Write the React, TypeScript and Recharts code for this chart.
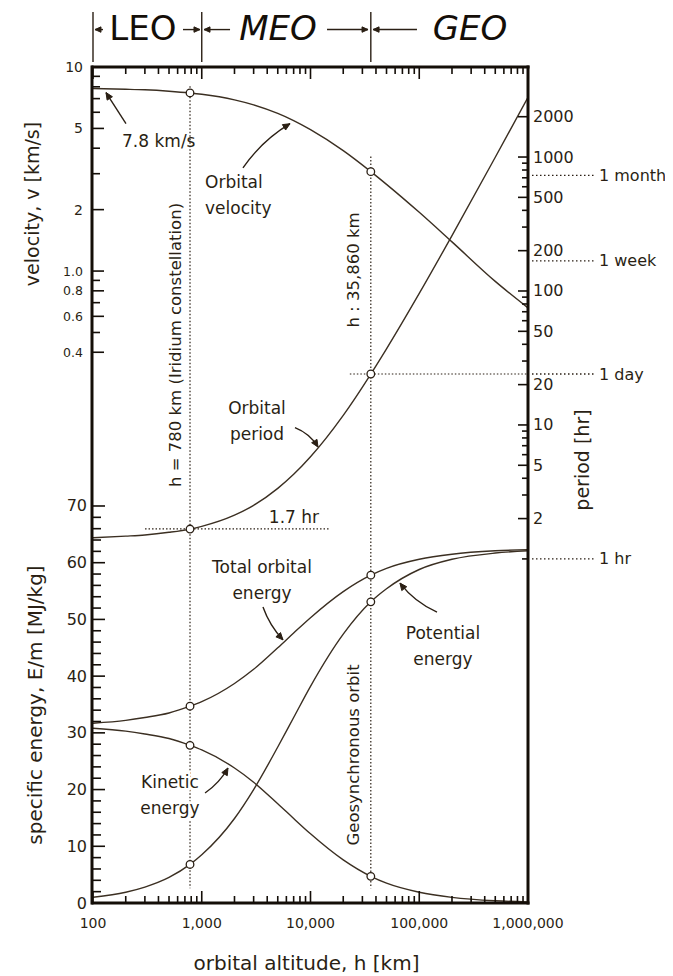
import React from 'react';
import { LineChart, Line, XAxis, YAxis, ReferenceLine, ReferenceDot } from 'recharts';

// orbital altitude samples [km]
const ALTITUDE_KM = [100, 200, 300, 500, 780, 1000, 2000, 3000, 5000, 7000, 10000, 20000, 35860, 50000, 100000, 200000, 500000, 1000000];
// values
const VELOCITY = [7.84, 7.78, 7.73, 7.61, 7.46, 7.35, 6.9, 6.52, 5.92, 5.46, 4.93, 3.89, 3.07, 2.66, 1.94, 1.39, 0.89, 0.66];
const PERIOD_HR = [1.44, 1.48, 1.51, 1.58, 1.67, 1.75, 2.12, 2.51, 3.36, 4.28, 5.79, 11.8, 24.0, 37.0, 95.9, 259, 996, 2790];
const TOTAL_ENERGY = [31.7, 32.2, 32.7, 33.5, 34.7, 35.5, 38.7, 41.2, 45.0, 47.6, 50.3, 54.9, 57.8, 59.0, 60.6, 61.5, 62.1, 62.3];
const KINETIC_ENERGY = [30.8, 30.3, 29.8, 29.0, 27.8, 27.0, 23.8, 21.3, 17.5, 14.9, 12.2, 7.6, 4.7, 3.5, 1.9, 1.0, 0.4, 0.2];
const POTENTIAL_ENERGY = [1.0, 1.9, 2.8, 4.5, 6.8, 8.5, 14.9, 20.0, 27.5, 32.7, 38.2, 47.4, 53.1, 55.4, 58.8, 60.6, 61.7, 62.1];
const MARKED_ALT = [780, 35860];

// ticks
const X_DECADES = [100, 1000, 10000, 100000, 1000000];
const X_LABELS = ['100', '1,000', '10,000', '100,000', '1,000,000'];
const X_TICKS = [100, 1000, 10000, 100000].flatMap((d) => [1, 2, 3, 4, 5, 6, 7, 8, 9].map((m) => m * d)).concat([1000000]);
const VEL_TICKS = [0.4, 0.5, 0.6, 0.7, 0.8, 0.9, 1, 2, 3, 4, 5, 6, 7, 8, 9, 10];
const VEL_LABELED = [0.4, 0.6, 0.8, 1, 2, 5, 10];
const VEL_LABELS = ['0.4', '0.6', '0.8', '1.0', '2', '5', '10'];
const ENERGY_TICKS = Array.from({ length: 36 }, (_, i) => i * 2);
const ENERGY_LABELED = [0, 10, 20, 30, 40, 50, 60, 70];
const PERIOD_TICKS = [1, 2, 3, 4, 5, 6, 7, 8, 9, 10, 20, 30, 40, 50, 60, 70, 80, 90, 100, 200, 300, 400, 500, 600, 700, 800, 900, 1000, 2000];
const PERIOD_LABELED = [2, 5, 10, 20, 50, 100, 200, 500, 1000, 2000];
const PERIOD_MARKS = ['1 hr', '1 day', '1 week', '1 month'];
const PERIOD_MARK_HOURS = [1, 24, 168, 730];

const X_DOMAIN = [100, 1000000];
const VEL_DOMAIN = [0.0008, 10];
const ENERGY_DOMAIN = [0, 147.4];
const PERIOD_DOMAIN = [0.0027, 4700];

// annotation anchors (altitude, energy-axis value)
const NOTES = [
  { lines: ['7.8 km/s'], h: 185, e: 134.4, anchor: 'start' },
  { lines: ['Orbital', 'velocity'], h: 1072, e: 127.2, anchor: 'start' },
  { lines: ['h = 780 km (Iridium constellation)'], h: 568, e: 98.4, rotate: true },
  { lines: ['h : 35,860 km'], h: 24600, e: 111.6, rotate: true },
  { lines: ['Orbital', 'period'], h: 3221, e: 87.3 },
  { lines: ['1.7 hr'], h: 7047, e: 68.1 },
  { lines: ['Total orbital', 'energy'], h: 3583, e: 59.3 },
  { lines: ['Potential', 'energy'], h: 165300, e: 47.6 },
  { lines: ['Kinetic', 'energy'], h: 510, e: 21.3, halo: true },
  { lines: ['Geosynchronous orbit'], h: 24600, e: 26.1, rotate: true },
];
const ARROWS = [
  { from: [201, 137.4], to: [131.7, 142.9], bend: 0 },
  { from: [2393, 129.6], to: [6480, 137.4], bend: -7 },
  { from: [7195, 83.8], to: [11720, 80.4], bend: -5 },
  { from: [3656, 52.2], to: [5585, 46.4], bend: 4 },
  { from: [145600, 51.3], to: [66500, 56.4], bend: -6 },
  { from: [1072, 19.4], to: [1742, 23.8], bend: 4 },
];
const ZONES = ['LEO', 'MEO', 'GEO'];
const ZONE_CENTERS = [288, 5023, 293000];
const ZONE_BOUNDS = [100, 1000, 35860];
const ZONE_ARROWS = [[123.6, 104.3], [672, 963], [1820, 1049], [14190, 33800], [95300, 37600]];

const data = ALTITUDE_KM.map((h, i) => ({
  h,
  v: VELOCITY[i],
  T: PERIOD_HR[i],
  te: TOTAL_ENERGY[i],
  ke: KINETIC_ENERGY[i],
  pe: POTENTIAL_ENERGY[i],
}));

const INK = '#2a1f14';
const CURVE = '#3b2f22';
const FRAME = '#140e08';
const FONT = "'DejaVu Sans', sans-serif";
const frameLine = { stroke: FRAME, strokeWidth: 3, strokeLinecap: 'square' as const };
const TICK_W = 1.6;

const BottomTick = ({ x, y, payload }: any) => {
  const idx = X_DECADES.indexOf(payload.value);
  return (
    <g>
      <line x1={x} x2={x} y1={y} y2={y - (idx >= 0 ? 12 : 7)} stroke={FRAME} strokeWidth={TICK_W} />
      {idx >= 0 && (
        <text x={x} y={y + 20} textAnchor="middle" dominantBaseline="central" fontSize={14} fill={INK} fontFamily={FONT}>
          {X_LABELS[idx]}
        </text>
      )}
    </g>
  );
};

const TopTick = ({ x, y, payload }: any) => {
  const major = X_DECADES.includes(payload.value);
  return <line x1={x} x2={x} y1={y} y2={y + (major ? 12 : 7)} stroke={FRAME} strokeWidth={TICK_W} />;
};

const VelTick = ({ x, y, payload }: any) => {
  const idx = VEL_LABELED.indexOf(payload.value);
  return (
    <g>
      <line x1={x} x2={x + (idx >= 0 ? 12 : 8)} y1={y} y2={y} stroke={FRAME} strokeWidth={TICK_W} />
      {idx >= 0 && (
        <text x={x - 9} y={y} textAnchor="end" dominantBaseline="central" fontSize={payload.value < 1.5 ? 12.5 : 14} fill={INK} fontFamily={FONT}>
          {VEL_LABELS[idx]}
        </text>
      )}
    </g>
  );
};

const EnergyTick = ({ x, y, payload }: any) => {
  const major = ENERGY_LABELED.includes(payload.value);
  return (
    <g>
      <line x1={x} x2={x + (major ? 12 : 8)} y1={y} y2={y} stroke={FRAME} strokeWidth={TICK_W} />
      {major && (
        <text x={x - 6} y={y} textAnchor="end" dominantBaseline="central" fontSize={16} fill={INK} fontFamily={FONT}>
          {payload.value}
        </text>
      )}
    </g>
  );
};

const PeriodTick = ({ x, y, payload }: any) => {
  const major = PERIOD_LABELED.includes(payload.value);
  return (
    <g>
      <line x1={x} x2={x - (major ? 10 : 6)} y1={y} y2={y} stroke={FRAME} strokeWidth={TICK_W} />
      {major && (
        <text x={x + 5} y={y} textAnchor="start" dominantBaseline="central" fontSize={16} fill={INK} fontFamily={FONT}>
          {payload.value}
        </text>
      )}
    </g>
  );
};

const RingDot = (props: any) => {
  const { cx, cy, payload, index } = props;
  if (!MARKED_ALT.includes(payload.h)) return <g key={`d${index}`} />;
  return <circle key={`d${index}`} cx={cx} cy={cy} r={3.8} fill="#fff" stroke={INK} strokeWidth={1.3} />;
};

const Arrow = ({ x1, y1, x2, y2, bend = 0, head = 7 }: any) => {
  const mx = (x1 + x2) / 2;
  const my = (y1 + y2) / 2;
  const len = Math.hypot(x2 - x1, y2 - y1) || 1;
  const cx = mx + (-(y2 - y1) / len) * bend;
  const cy = my + ((x2 - x1) / len) * bend;
  const al = Math.hypot(x2 - cx, y2 - cy) || 1;
  const ux = (x2 - cx) / al;
  const uy = (y2 - cy) / al;
  const w = head * 0.45;
  const p1 = `${x2 - ux * head - uy * w},${y2 - uy * head + ux * w}`;
  const p2 = `${x2 - ux * head + uy * w},${y2 - uy * head - ux * w}`;
  return (
    <g>
      <path d={`M${x1},${y1} Q${cx},${cy} ${x2},${y2}`} fill="none" stroke={INK} strokeWidth={1.4} />
      <path d={`M${x2},${y2} L${p1} L${p2} Z`} fill={INK} stroke={INK} strokeWidth={1} />
    </g>
  );
};

const Note = ({ cx, cy, note }: any) => {
  const anchor = note.anchor || 'middle';
  const halo = note.halo ? { stroke: '#fff', strokeWidth: 5, paintOrder: 'stroke' as const } : {};
  if (note.rotate) {
    return (
      <text transform={`translate(${cx},${cy}) rotate(-90)`} textAnchor="middle" dominantBaseline="central" fontSize={16.5} fill={INK} fontFamily={FONT}>
        {note.lines[0]}
      </text>
    );
  }
  return (
    <g>
      {note.lines.map((t: string, i: number) => (
        <text key={t} x={cx} y={cy + i * 26} textAnchor={anchor} dominantBaseline="central" fontSize={17} fill={INK} fontFamily={FONT} {...halo}>
          {t}
        </text>
      ))}
    </g>
  );
};

const PeriodMark = ({ viewBox, text }: any) => {
  const x = viewBox.x + viewBox.width;
  const y = viewBox.y;
  return (
    <g>
      <line x1={x + 4} x2={x + 66} y1={y} y2={y} stroke={INK} strokeWidth={1.3} strokeDasharray="1.5 2.5" />
      <text x={x + 71} y={y} dominantBaseline="central" fontSize={16} fill={INK} fontFamily={FONT}>
        {text}
      </text>
    </g>
  );
};

const dotted = { stroke: INK, strokeWidth: 1.2, strokeDasharray: '1.5 2' };

export default function App() {
  return (
    <div style={{ width: 657, height: 968 }}>
      <LineChart width={657} height={968} data={data} margin={{ top: 58, left: 83, right: 136, bottom: 72 }}>
        <XAxis
          xAxisId="bottom"
          dataKey="h"
          type="number"
          scale="log"
          domain={X_DOMAIN}
          allowDataOverflow
          ticks={X_TICKS}
          interval={0}
          height={1}
          tickSize={0}
          tickMargin={0}
          tickLine={false}
          tick={<BottomTick />}
          axisLine={frameLine}
          label={({ viewBox }: any) => (
            <text x={viewBox.x + viewBox.width / 2 - 4} y={viewBox.y + 60} textAnchor="middle" dominantBaseline="central" fontSize={20} fill={INK} fontFamily={FONT}>
              orbital altitude, h [km]
            </text>
          )}
        />
        <XAxis
          xAxisId="top"
          orientation="top"
          dataKey="h"
          type="number"
          scale="log"
          domain={X_DOMAIN}
          allowDataOverflow
          ticks={X_TICKS}
          interval={0}
          height={1}
          tickSize={0}
          tickMargin={0}
          tickLine={false}
          tick={<TopTick />}
          axisLine={frameLine}
        />
        <YAxis
          yAxisId="vel"
          type="number"
          scale="log"
          domain={VEL_DOMAIN}
          allowDataOverflow
          ticks={VEL_TICKS}
          interval={0}
          width={1}
          tickSize={0}
          tickMargin={0}
          tickLine={false}
          tick={<VelTick />}
          axisLine={frameLine}
          label={({ viewBox }: any) => (
            <text transform={`translate(${viewBox.x - 59},${viewBox.y + 137}) rotate(-90)`} textAnchor="middle" dominantBaseline="central" fontSize={19} fill={INK} fontFamily={FONT}>
              velocity, v [km/s]
            </text>
          )}
        />
        <YAxis
          yAxisId="energy"
          type="number"
          domain={ENERGY_DOMAIN}
          allowDataOverflow
          ticks={ENERGY_TICKS}
          interval={0}
          width={1}
          tickSize={0}
          tickMargin={0}
          tickLine={false}
          tick={<EnergyTick />}
          axisLine={false}
          label={({ viewBox }: any) => (
            <text transform={`translate(${viewBox.x - 57},${viewBox.y + 638}) rotate(-90)`} textAnchor="middle" dominantBaseline="central" fontSize={20} fill={INK} fontFamily={FONT}>
              specific energy, E/m [MJ/kg]
            </text>
          )}
        />
        <YAxis
          yAxisId="period"
          orientation="right"
          type="number"
          scale="log"
          domain={PERIOD_DOMAIN}
          allowDataOverflow
          ticks={PERIOD_TICKS}
          interval={0}
          width={1}
          tickSize={0}
          tickMargin={0}
          tickLine={false}
          tick={<PeriodTick />}
          axisLine={frameLine}
          label={({ viewBox }: any) => (
            <text transform={`translate(${viewBox.x + 54},${viewBox.y + 393}) rotate(-90)`} textAnchor="middle" dominantBaseline="central" fontSize={19} fill={INK} fontFamily={FONT}>
              period [hr]
            </text>
          )}
        />

        {/* dotted guides */}
        <ReferenceLine xAxisId="bottom" yAxisId="energy" segment={[{ x: 780, y: 144 }, { x: 780, y: 2.6 }]} {...dotted} />
        <ReferenceLine xAxisId="bottom" yAxisId="energy" segment={[{ x: 35860, y: 131.6 }, { x: 35860, y: 2.6 }]} {...dotted} />
        <ReferenceLine xAxisId="bottom" yAxisId="period" segment={[{ x: 301, y: 1.674 }, { x: 15000, y: 1.674 }]} {...dotted} />
        <ReferenceLine xAxisId="bottom" yAxisId="period" segment={[{ x: 23000, y: 24 }, { x: 1000000, y: 24 }]} {...dotted} />
        {PERIOD_MARK_HOURS.map((hr, i) => (
          <ReferenceLine
            key={PERIOD_MARKS[i]}
            xAxisId="bottom"
            yAxisId="period"
            y={hr}
            stroke="none"
            label={(p: any) => <PeriodMark {...p} text={PERIOD_MARKS[i]} />}
          />
        ))}

        {/* header zones */}
        {ZONE_BOUNDS.map((h) => (
          <ReferenceLine
            key={`zb${h}`}
            xAxisId="bottom"
            yAxisId="energy"
            ifOverflow="visible"
            segment={[{ x: h, y: 157.1 }, { x: h, y: 148.3 }]}
            stroke={INK}
            strokeWidth={1.4}
          />
        ))}
        {ZONE_ARROWS.map(([a, b]) => (
          <ReferenceLine
            key={`za${a}`}
            xAxisId="bottom"
            yAxisId="energy"
            ifOverflow="visible"
            segment={[{ x: a, y: 154 }, { x: b, y: 154 }]}
            shape={(p: any) => <Arrow {...p} head={6} />}
          />
        ))}
        {ZONES.map((z, i) => (
          <ReferenceDot
            key={z}
            xAxisId="bottom"
            yAxisId="energy"
            x={ZONE_CENTERS[i]}
            y={154.3}
            ifOverflow="visible"
            shape={(p: any) => (
              <text x={p.cx} y={p.cy} textAnchor="middle" dominantBaseline="central" fontSize={34} fontStyle={i === 0 ? 'normal' : 'italic'} fill={FRAME} fontFamily={FONT}>
                {z}
              </text>
            )}
          />
        ))}

        {/* curves */}
        <Line xAxisId="bottom" yAxisId="vel" dataKey="v" type="monotone" stroke={CURVE} strokeWidth={1.4} dot={RingDot} activeDot={false} isAnimationActive={false} />
        <Line xAxisId="bottom" yAxisId="period" dataKey="T" type="monotone" stroke={CURVE} strokeWidth={1.4} dot={RingDot} activeDot={false} isAnimationActive={false} />
        <Line xAxisId="bottom" yAxisId="energy" dataKey="te" type="monotone" stroke={CURVE} strokeWidth={1.4} dot={RingDot} activeDot={false} isAnimationActive={false} />
        <Line xAxisId="bottom" yAxisId="energy" dataKey="pe" type="monotone" stroke={CURVE} strokeWidth={1.4} dot={RingDot} activeDot={false} isAnimationActive={false} />
        <Line xAxisId="bottom" yAxisId="energy" dataKey="ke" type="monotone" stroke={CURVE} strokeWidth={1.4} dot={RingDot} activeDot={false} isAnimationActive={false} />

        {/* annotations */}
        {ARROWS.map((a, i) => (
          <ReferenceLine
            key={`ar${i}`}
            xAxisId="bottom"
            yAxisId="energy"
            segment={[{ x: a.from[0], y: a.from[1] }, { x: a.to[0], y: a.to[1] }]}
            shape={(p: any) => <Arrow {...p} bend={a.bend} />}
          />
        ))}
        {NOTES.map((n) => (
          <ReferenceDot
            key={n.lines[0]}
            xAxisId="bottom"
            yAxisId="energy"
            x={n.h}
            y={n.e}
            ifOverflow="visible"
            shape={(p: any) => <Note {...p} note={n} />}
          />
        ))}
      </LineChart>
    </div>
  );
}
